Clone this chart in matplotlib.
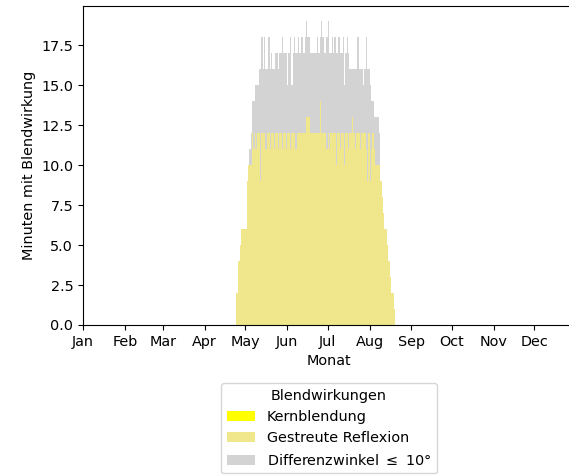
import numpy as np
import matplotlib
matplotlib.use("Agg")
import matplotlib.pyplot as plt
import matplotlib.dates as mdates

plt.rcParams["font.size"] = 10.4

# Tageswerte ab 24. April (Tag 113) bis 18. August
start = np.datetime64("2023-04-24")

gestreut = [
    2, 2, 4, 5, 6, 6, 6, 6, 9, 10,
    10, 10, 12, 11, 12, 11, 12, 12, 9, 12,
    12, 12, 11, 12, 12, 11, 12, 12, 11, 12,
    12, 11, 12, 12, 11, 12, 12, 11, 12, 12,
    11, 12, 12, 12, 11, 12, 12, 12, 12, 12,
    12, 12, 13, 13, 13, 12, 12, 12, 12, 12,
    12, 12, 14, 12, 12, 12, 12, 11, 12, 11,
    12, 12, 12, 12, 10, 12, 12, 11, 12, 12,
    10, 12, 12, 11, 12, 12, 13, 12, 11, 12,
    12, 12, 11, 12, 12, 12, 11, 9, 12, 9,
    11, 12, 11, 10, 10, 10, 10, 9, 8, 7,
    6, 6, 5, 4, 3, 2, 2, 1,
]

differenzwinkel = [
    2, 2, 4, 5, 6, 6, 6, 6, 9, 10,
    11, 12, 14, 14, 15, 15, 15, 16, 16, 18,
    16, 18, 16, 16, 18, 16, 17, 16, 16, 17,
    17, 16, 17, 17, 18, 17, 17, 17, 15, 17,
    18, 15, 17, 18, 17, 17, 18, 17, 18, 18,
    17, 18, 19, 18, 18, 17, 17, 17, 17, 17,
    18, 17, 18, 19, 18, 17, 17, 18, 19, 17,
    17, 18, 17, 18, 17, 17, 18, 17, 17, 18,
    15, 17, 18, 17, 16, 16, 16, 16, 16, 16,
    18, 16, 16, 16, 15, 16, 18, 16, 16, 15,
    14, 14, 13, 13, 13, 13, 12, 9, 8, 7,
    6, 6, 5, 4, 3, 2, 2, 1,
]

kernblendung = [0] * len(gestreut)

tage = start + np.arange(len(gestreut))

fig = plt.figure(figsize=(5.69, 4.75), dpi=100)
ax = fig.add_axes([0.1459, 0.3158, 0.8647, 0.6716])

b_diff = ax.bar(tage, differenzwinkel, width=1, align="edge",
                color="lightgrey", linewidth=0)
b_gest = ax.bar(tage, gestreut, width=1, align="edge",
                color="khaki", linewidth=0)
b_kern = ax.bar(tage, kernblendung, width=1, align="edge",
                color="yellow", linewidth=0)

ax.set_xlim(np.datetime64("2023-01-01"), np.datetime64("2023-12-31"))
ax.xaxis.set_major_locator(mdates.MonthLocator())
ax.xaxis.set_major_formatter(mdates.DateFormatter("%b"))

ax.set_xlabel("Monat")
ax.set_ylabel("Minuten mit Blendwirkung")

ax.legend([b_kern, b_gest, b_diff],
          ["Kernblendung", "Gestreute Reflexion", r"Differenzwinkel $\leq$ 10°"],
          title="Blendwirkungen", loc="upper center",
          bbox_to_anchor=(0.5, -0.16))

fig.savefig("out.png", dpi=100)
